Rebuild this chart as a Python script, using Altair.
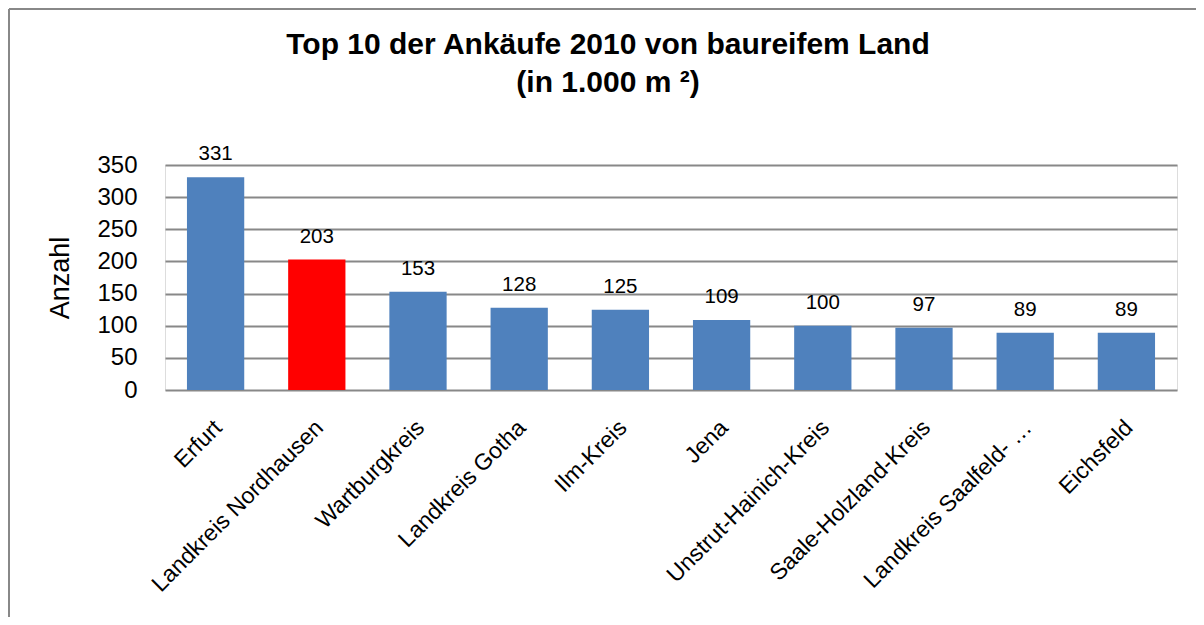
import altair as alt
import pandas as pd

categories = ["Erfurt", "Landkreis Nordhausen", "Wartburgkreis", "Landkreis Gotha",
              "Ilm-Kreis", "Jena", "Unstrut-Hainich-Kreis", "Saale-Holzland-Kreis",
              "Landkreis Saalfeld- …", "Eichsfeld"]
values = [331, 203, 153, 128, 125, 109, 100, 97, 89, 89]
highlight = [False, True, False, False, False, False, False, False, False, False]
title_line1 = "Top 10 der Ankäufe 2010 von baureifem Land"
title_line2 = "(in 1.000 m ²)"
y_ticks = [0, 50, 100, 150, 200, 250, 300, 350]

df = pd.DataFrame({"Kreis": categories, "Wert": values, "hl": highlight})

FONT = "Liberation Sans"

x_enc = alt.X("Kreis:N", sort=categories, title=None,
              scale=alt.Scale(paddingInner=0.434, paddingOuter=0.217),
              axis=alt.Axis(labelAngle=-45, labelFontSize=23, labelColor="black",
                            labelFont=FONT, ticks=False, domain=False, labelPadding=26,
                            labelOffset=-5, labelLimit=400))
y_enc = alt.Y("Wert:Q", title="Anzahl",
              scale=alt.Scale(domain=[0, 350], nice=False),
              axis=alt.Axis(values=y_ticks, grid=True, gridColor="#888888", gridWidth=2,
                            domain=False, ticks=False, labelFontSize=24, labelColor="black",
                            labelFont=FONT, labelPadding=28, labelOverlap=False,
                            titleFontSize=27, titleFont=FONT, titleFontWeight="normal",
                            titleColor="black", titlePadding=22))

bars = alt.Chart(df).mark_bar().encode(
    x=x_enc, y=y_enc,
    color=alt.Color("hl:N", scale=alt.Scale(domain=[False, True], range=["#4F81BD", "#FF0000"]),
                    legend=None),
)

labels = alt.Chart(df).mark_text(fontSize=20.5, font=FONT, color="black", baseline="alphabetic",
                                 dy=-17).encode(
    x=x_enc, y=y_enc,
    text=alt.Text("Wert:Q"),
)

one = pd.DataFrame({"f": [0]})
t1 = alt.Chart(one).mark_text(fontSize=30, fontWeight="bold", font=FONT, color="black",
                              baseline="alphabetic", align="center").encode(
    x=alt.value(443), y=alt.value(-111), text=alt.value(title_line1))
t2 = alt.Chart(one).mark_text(fontSize=30, fontWeight="bold", font=FONT, color="black",
                              baseline="alphabetic", align="center").encode(
    x=alt.value(443), y=alt.value(-73), text=alt.value(title_line2))

frame_top = alt.Chart(one).mark_rule(color="#888888", strokeWidth=2).encode(
    x=alt.value(-156), x2=alt.value(1040), y=alt.value(-156))
frame_left = alt.Chart(one).mark_rule(color="#888888", strokeWidth=2).encode(
    x=alt.value(-156), y=alt.value(-156), y2=alt.value(460))

chart = alt.layer(bars, labels, t1, t2, frame_top, frame_left).properties(
    width=1012, height=225,
    autosize=alt.AutoSizeParams(type="none"),
    padding={"left": 157, "top": 157, "right": 19, "bottom": 227},
).configure_view(stroke=None).configure(background="white")

chart.save("out.html", embed_options={"renderer": "svg", "actions": False})
